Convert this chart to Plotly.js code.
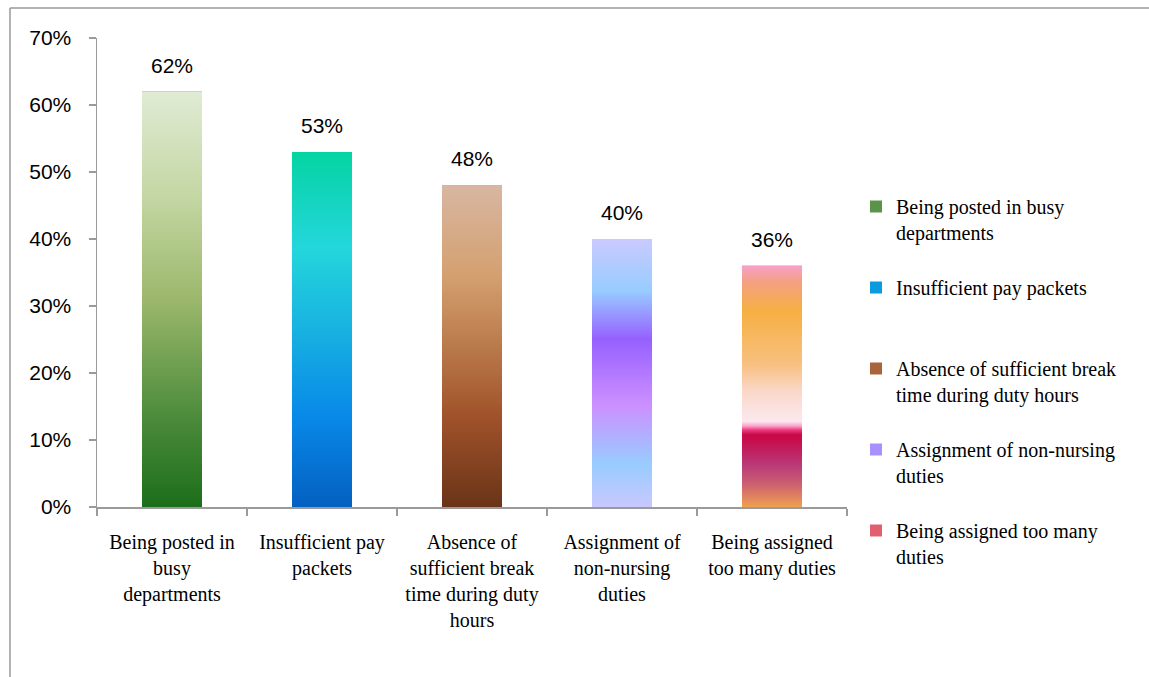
<!DOCTYPE html>
<html>
<head>
<meta charset="utf-8">
<script src="https://cdn.plot.ly/plotly-3.0.1.min.js"></script>
<style>html,body{margin:0;padding:0;background:#fff;}#chart{width:1149px;height:677px;}</style>
</head>
<body>
<div id="chart"></div>
<script>
// ---- data ----
var categories = [
  "Being posted in<br>busy<br>departments",
  "Insufficient pay<br>packets",
  "Absence of<br>sufficient break<br>time during duty<br>hours",
  "Assignment of<br>non-nursing<br>duties",
  "Being assigned<br>too many duties"
];
var legendNames = [
  "Being posted in busy<br>departments",
  "Insufficient pay packets<br> ",
  "Absence of sufficient break<br>time during duty hours",
  "Assignment of non-nursing<br>duties",
  "Being assigned too many<br>duties"
];
var values = [62, 53, 48, 40, 36];
var valueLabels = ["62%", "53%", "48%", "40%", "36%"];
var yTicks = [0, 10, 20, 30, 40, 50, 60, 70];
var yTickLabels = ["0%", "10%", "20%", "30%", "40%", "50%", "60%", "70%"];

// ---- styles (gradient stops: 0 = bottom of bar, 1 = top) ----
var solidColors = ["#5a9448", "#0a9ae0", "#a8643a", "#a890ff", "#e06070"];
var gradients = [
  [[0, "#1c6e1a"], [0.21, "#4a8a3a"], [0.5, "#9cb86c"], [0.75, "#c4d7a4"], [1, "#e0ebd4"]],
  [[0, "#0460c0"], [0.25, "#0888e8"], [0.5, "#18b2e0"], [0.73, "#24d6dc"], [1, "#04d4a2"]],
  [[0, "#6a3418"], [0.28, "#a0522a"], [0.5, "#ba7a4a"], [0.72, "#d4a070"], [1, "#d8b6a2"]],
  [[0, "#c8c8ff"], [0.16, "#98ccff"], [0.38, "#cc90ff"], [0.626, "#9660ff"], [0.806, "#98ccff"], [1, "#cacaff"]],
  [[0, "#f0a050"], [0.094, "#cc6070"], [0.177, "#b83878"], [0.28, "#c80c4c"], [0.30, "#c80a48"], [0.32, "#f03c80"], [0.335, "#f8a0c8"], [0.355, "#fce8f0"], [0.48, "#fad8c8"], [0.59, "#f8c080"], [0.813, "#f5b042"], [0.93, "#f4a080"], [1, "#f8a0c8"]]
];
var barWidth = 0.4;

var traces = [];
for (var i = 0; i < values.length; i++) {
  traces.push({
    type: "bar",
    x: [i],
    y: [values[i]],
    width: barWidth,
    name: legendNames[i],
    legendgroup: "g" + i,
    marker: {color: solidColors[i], line: {width: 0}},
    hoverinfo: "skip"
  });
}
for (var j = 0; j < values.length; j++) {
  var x0 = j - barWidth / 2, x1 = j + barWidth / 2;
  traces.push({
    type: "scatter",
    mode: "lines",
    x: [x0, x1, x1, x0, x0],
    y: [0, 0, values[j], values[j], 0],
    fill: "toself",
    fillgradient: {type: "vertical", colorscale: gradients[j]},
    line: {width: 0},
    showlegend: false,
    hoverinfo: "skip"
  });
}

var annotations = [];
for (var k = 0; k < values.length; k++) {
  annotations.push({
    x: k, y: values[k], xref: "x", yref: "y",
    text: valueLabels[k], showarrow: false,
    yanchor: "bottom", yshift: 13,
    font: {family: "Liberation Sans, Arial, sans-serif", size: 21, color: "#000"}
  });
}

var plotL = 97, plotR = 847, plotT = 38, plotB = 507, W = 1149, H = 677;
function px(x) { return (x - plotL) / (plotR - plotL); }
function py(y) { return (plotB - y) / (plotB - plotT); }

var layout = {
  width: W, height: H,
  margin: {l: plotL, r: W - plotR, t: plotT, b: H - plotB, pad: 0},
  paper_bgcolor: "#fff", plot_bgcolor: "#fff",
  barmode: "overlay",
  showlegend: true,
  xaxis: {
    range: [-0.5, 4.5],
    tickmode: "array",
    tickvals: [0, 1, 2, 3, 4],
    ticktext: categories,
    ticks: "",
    ticklabelstandoff: 16,
    showline: true, linecolor: "#9a9a9a", linewidth: 1.5,
    showgrid: false, zeroline: false,
    minor: {tick0: -0.5, dtick: 1, ticks: "outside", ticklen: 7, tickcolor: "#9a9a9a", tickwidth: 1.5, showgrid: false},
    tickfont: {family: "Liberation Serif, Times New Roman, serif", size: 20, color: "#000"},
    fixedrange: true
  },
  yaxis: {
    range: [0, 70],
    tickmode: "array",
    tickvals: yTicks,
    ticktext: yTickLabels,
    ticks: "outside", ticklen: 7, tickcolor: "#9a9a9a", tickwidth: 1.5,
    ticklabelstandoff: 13,
    showline: true, linecolor: "#9a9a9a", linewidth: 1.5,
    showgrid: false, zeroline: false,
    tickfont: {family: "Liberation Sans, Arial, sans-serif", size: 21, color: "#000"},
    fixedrange: true
  },
  legend: {
    x: px(856), xanchor: "left",
    y: py(187), yanchor: "top",
    valign: "top",
    tracegroupgap: 26,
    bgcolor: "rgba(0,0,0,0)",
    font: {family: "Liberation Serif, Times New Roman, serif", size: 20, color: "#000"}
  },
  annotations: annotations,
  shapes: [
    {type: "line", xref: "paper", yref: "paper", x0: px(10), x1: px(10), y0: py(8), y1: py(H + 5), line: {color: "#999", width: 1.5}},
    {type: "line", xref: "paper", yref: "paper", x0: px(10), x1: px(W + 5), y0: py(8), y1: py(8), line: {color: "#999", width: 1.5}}
  ]
};

Plotly.newPlot("chart", traces, layout, {displayModeBar: false, staticPlot: true});
</script>
</body>
</html>
